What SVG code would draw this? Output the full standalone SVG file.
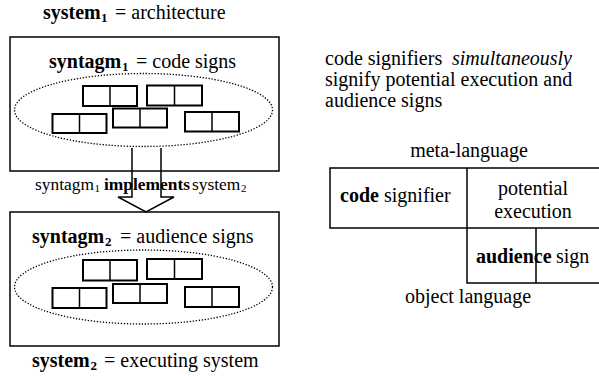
<svg xmlns="http://www.w3.org/2000/svg" width="599" height="377" viewBox="0 0 599 377">
<style>
.box{fill:none;stroke:#000;stroke-width:1.5}
.cell{fill:none;stroke:#000;stroke-width:2}
.ell{fill:none;stroke:#000;stroke-width:1.3;stroke-dasharray:1.3 1.7}
.ln{stroke:#000;stroke-width:1.5;fill:none}
</style>
<rect width="599" height="377" fill="#fff"/>
<g id="system1">
<text x="43" y="19" font-family="Liberation Serif" font-size="20" font-weight="bold">system</text>
<text x="101" y="22" font-family="Liberation Serif" font-size="13" font-weight="bold">1</text>
<text x="115" y="19" font-family="Liberation Serif" font-size="20">= architecture</text>
<rect class="box" x="10" y="37" width="269" height="134"/>
</g>
<g id="syntagm1">
<text x="49" y="68" font-family="Liberation Serif" font-size="20" font-weight="bold">syntagm</text>
<text x="122" y="71" font-family="Liberation Serif" font-size="13" font-weight="bold">1</text>
<text x="136" y="68" font-family="Liberation Serif" font-size="20">= code signs</text>
<ellipse class="ell" cx="143.5" cy="110" rx="129" ry="36.5"/>
<rect class="cell" x="83" y="86" width="54" height="20"/><line class="ln" x1="110" y1="86" x2="110" y2="106"/>
<rect class="cell" x="147" y="85.5" width="55" height="20"/><line class="ln" x1="174.5" y1="85.5" x2="174.5" y2="105.5"/>
<rect class="cell" x="52.5" y="114" width="54" height="19"/><line class="ln" x1="79.5" y1="114" x2="79.5" y2="133"/>
<rect class="cell" x="113" y="108.5" width="54" height="19"/><line class="ln" x1="140" y1="108.5" x2="140" y2="127.5"/>
<rect class="cell" x="185" y="112" width="54" height="19.5"/><line class="ln" x1="212" y1="112" x2="212" y2="131.5"/>
</g>
<g id="connectors">
<text x="35" y="190" font-family="Liberation Serif" font-size="17.4">syntagm</text>
<text x="94.5" y="192" font-family="Liberation Serif" font-size="11">1</text>
<text x="104" y="190" font-family="Liberation Serif" font-size="17.4" font-weight="bold">implements</text>
<text x="192" y="190" font-family="Liberation Serif" font-size="17.4">system</text>
<text x="241" y="192" font-family="Liberation Serif" font-size="11">2</text>
<path class="ln" d="M132 148 V197 H118 L146 212 L174 197 H161 V148"/>
</g>
<g id="system2">
<rect class="box" x="10" y="212" width="269" height="134"/>
<text x="32" y="367" font-family="Liberation Serif" font-size="20" font-weight="bold">system</text>
<text x="90.5" y="370" font-family="Liberation Serif" font-size="13" font-weight="bold">2</text>
<text x="104" y="367" font-family="Liberation Serif" font-size="20">= executing system</text>
</g>
<g id="syntagm2">
<text x="32" y="243" font-family="Liberation Serif" font-size="20" font-weight="bold">syntagm</text>
<text x="105" y="246" font-family="Liberation Serif" font-size="13" font-weight="bold">2</text>
<text x="120" y="243" font-family="Liberation Serif" font-size="20">= audience signs</text>
<ellipse class="ell" cx="143.5" cy="287" rx="129" ry="37"/>
<rect class="cell" x="83" y="260" width="54" height="20.5"/><line class="ln" x1="110" y1="260" x2="110" y2="280.5"/>
<rect class="cell" x="147" y="259" width="55" height="20"/><line class="ln" x1="174.5" y1="259" x2="174.5" y2="279"/>
<rect class="cell" x="52.5" y="288" width="54" height="20"/><line class="ln" x1="79.5" y1="288" x2="79.5" y2="308"/>
<rect class="cell" x="113" y="284" width="54" height="19"/><line class="ln" x1="140" y1="284" x2="140" y2="303"/>
<rect class="cell" x="185" y="287" width="54" height="20"/><line class="ln" x1="212" y1="287" x2="212" y2="307"/>
</g>
<g id="note">
<text x="325" y="65" font-family="Liberation Serif" font-size="20">code signifiers</text>
<text x="452" y="65" font-family="Liberation Serif" font-size="20" font-style="italic">simultaneously</text>
<text x="325" y="86" font-family="Liberation Serif" font-size="20">signify potential execution and</text>
<text x="325" y="107" font-family="Liberation Serif" font-size="20">audience signs</text>
</g>
<g id="table">
<text x="469" y="157" font-family="Liberation Serif" font-size="20" text-anchor="middle">meta-language</text>
<path class="ln" d="M599 168 H330 V228 H599 M467 168 V283 H599 M536 228 V283"/>
<text x="340" y="202" font-family="Liberation Serif" font-size="20" font-weight="bold">code</text>
<text x="384" y="202" font-family="Liberation Serif" font-size="20">signifier</text>
<text x="533" y="195" font-family="Liberation Serif" font-size="20" text-anchor="middle">potential</text>
<text x="533" y="218" font-family="Liberation Serif" font-size="20" text-anchor="middle">execution</text>
<text x="476" y="263" font-family="Liberation Serif" font-size="20" font-weight="bold">audience</text>
<text x="556" y="263" font-family="Liberation Serif" font-size="20">sign</text>
<text x="468" y="303" font-family="Liberation Serif" font-size="20" text-anchor="middle">object language</text>
</g>
</svg>
